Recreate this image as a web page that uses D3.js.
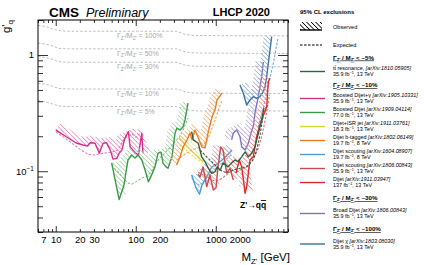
<!DOCTYPE html>
<html><head><meta charset="utf-8">
<script src="https://cdn.jsdelivr.net/npm/d3@7"></script>
<style>
body{margin:0;background:#fff}
text{font-family:"Liberation Sans",Arial,Helvetica,sans-serif}
</style></head><body><div id="PlotArea"></div>
<script>
// Z' width reference curves (g'_q for fixed Gamma/M)
var widthMass = [6, 7.5, 9, 11, 14, 320, 360, 420, 550, 8000];
var width100 = [1.80, 1.76, 1.68, 1.62, 1.60, 1.60, 1.56, 1.50, 1.47, 1.46];
var width50 = [1.265, 1.24, 1.20, 1.14, 1.13, 1.13, 1.10, 1.06, 1.04, 1.03];
var width30 = [0.97, 0.95, 0.92, 0.875, 0.865, 0.865, 0.845, 0.815, 0.80, 0.79];
var width10 = [0.57, 0.56, 0.54, 0.515, 0.51, 0.51, 0.50, 0.48, 0.47, 0.466];
var width5 = [0.405, 0.395, 0.38, 0.364, 0.36, 0.36, 0.352, 0.34, 0.33, 0.33];
var widthNames = ["100%", "50%", "30%", "10%", "5%"];

// Boosted dijet + gamma
var dijetGammaMass = [10, 14, 18, 22, 25, 27, 31, 35, 39, 43, 48, 52, 58, 62, 67, 73, 81, 85, 98, 108, 119, 123];
var dijetGammaObs = [0.226, 0.195, 0.175, 0.168, 0.165, 0.176, 0.174, 0.143, 0.174, 0.176, 0.152, 0.127, 0.129, 0.143, 0.152, 0.192, 0.219, 0.162, 0.144, 0.138, 0.212, 0.143];
var dijetGammaExpMass = [10, 14, 20, 25, 30, 40, 50, 60, 70, 80, 90, 100, 110, 125];
var dijetGammaExp = [0.218, 0.186, 0.155, 0.140, 0.138, 0.143, 0.146, 0.152, 0.186, 0.201, 0.209, 0.196, 0.209, 0.205];

// Boosted dijet
var boostedMass = [50, 62, 71, 80, 89, 98, 107, 119, 131, 144, 158, 174, 190, 207, 219, 239, 253, 284, 310, 328, 358, 390, 413, 450];
var boostedObs = [0.118, 0.057, 0.075, 0.125, 0.138, 0.130, 0.138, 0.125, 0.102, 0.081, 0.093, 0.109, 0.143, 0.146, 0.118, 0.109, 0.106, 0.133, 0.213, 0.235, 0.226, 0.240, 0.276, 0.386];
var boostedExpMass = [50, 60, 70, 80, 90, 100, 120, 140, 160, 180, 200, 250, 300, 350, 400, 450];
var boostedExp = [0.113, 0.0985, 0.0873, 0.079, 0.0775, 0.081, 0.0873, 0.0908, 0.1024, 0.118, 0.13, 0.152, 0.175, 0.196, 0.235, 0.287];

// Dijet + ISR jet
var isrMass = [350, 400, 450, 500, 550, 600, 650, 700];
var isrObs = [0.193, 0.175, 0.161, 0.149, 0.140, 0.133, 0.125, 0.121];
var isrExp = [0.168, 0.159, 0.146, 0.138, 0.130, 0.125, 0.121, 0.118];

// Dijet b-tagged (8 TeV)
var btagMass = [325, 358, 390, 437, 477, 505, 550, 600, 673, 734, 800, 898, 979, 1037, 1200];
var btagObs = [0.113, 0.133, 0.161, 0.186, 0.213, 0.186, 0.226, 0.196, 0.161, 0.159, 0.213, 0.293, 0.336, 0.41, 0.47];
var btagExpMass = [325, 400, 500, 600, 700, 800, 900, 1000, 1200];
var btagExp = [0.125, 0.138, 0.152, 0.159, 0.168, 0.193, 0.235, 0.287, 0.41];

// Dijet scouting (8 TeV)
var scout8Mass = [500, 567, 626, 673, 760, 890, 1000, 1200, 1400, 1600];
var scout8Obs = [0.0927, 0.0717, 0.0634, 0.076, 0.0873, 0.109, 0.113, 0.125, 0.138, 0.152];
var scout8Exp = [0.0873, 0.079, 0.076, 0.079, 0.0873, 0.0985, 0.106, 0.118, 0.130, 0.140];

// Dijet scouting (13 TeV)
var scoutMass = [600, 636, 693, 771, 847, 932, 1007, 1067, 1153, 1234, 1370, 1507, 1657];
var scoutObs = [0.095, 0.089, 0.109, 0.0736, 0.0927, 0.0689, 0.0717, 0.109, 0.162, 0.152, 0.0965, 0.106, 0.084];
var scoutExpMass = [600, 700, 800, 900, 1000, 1100, 1200, 1400, 1650];
var scoutExp = [0.098, 0.093, 0.0873, 0.084, 0.0825, 0.084, 0.0873, 0.094, 0.1024];

// Dijet 137 fb-1
var dijetMass = [1791, 1969, 2110, 2330, 2436, 2680, 2946, 3248, 3500, 3752, 4335, 4541, 4766];
var dijetObs = [0.0965, 0.125, 0.109, 0.0645, 0.0736, 0.125, 0.133, 0.198, 0.241, 0.276, 0.359, 0.589, 0.63];
var dijetExpMass = [1800, 2000, 2300, 2600, 3000, 3400, 3800, 4200, 4700];
var dijetExp = [0.098, 0.1024, 0.106, 0.113, 0.13, 0.158, 0.205, 0.287, 0.453];

// Broad dijet
var broadMass = [1580, 1657, 1829, 2010, 2110, 2330, 2553, 2814, 2946, 3095, 3405, 3752, 3932];
var broadObs = [0.186, 0.212, 0.226, 0.198, 0.162, 0.152, 0.174, 0.226, 0.241, 0.317, 0.438, 0.651, 0.87];

// Dijet chi
var chiMass = [2010, 2209, 2436, 2680, 2946, 3248, 3573, 3932, 4129, 4335, 4541, 4766, 5003];
var chiObs = [0.552, 0.468, 0.371, 0.41, 0.438, 0.424, 0.438, 0.483, 0.534, 0.651, 0.848, 1.104, 1.437];
var chiExpMass = [3374, 3932, 4541, 5290, 6000];
var chiExp = [0.24, 0.35, 0.55, 0.87, 1.40];

// ttbar resonance
var ttMass = [500, 524, 605, 667, 734, 808, 890, 979, 1045, 1140, 1234, 1423, 1580, 1742, 1897, 2110, 2330, 2553, 2814, 3095, 3405, 3752, 4009];
var ttObs = [0.219, 0.186, 0.174, 0.133, 0.121, 0.106, 0.096, 0.099, 0.109, 0.102, 0.118, 0.109, 0.118, 0.125, 0.121, 0.133, 0.147, 0.133, 0.143, 0.162, 0.212, 0.276, 0.35];
var ttExpMass = [636, 771, 1140, 1370, 1640, 2010, 2436, 2930, 3248, 3573, 3900];
var ttExp = [0.152, 0.133, 0.102, 0.0965, 0.102, 0.106, 0.109, 0.125, 0.152, 0.205, 0.30];

// legend text
var legendNames = ["t\u0074\u0304 resonance, ", "Boosted Dijet+\u03b3 ", "Boosted Dijet ", "Dijet+ISR jet ", "Dijet b-tagged ", "Dijet scouting ", "Dijet scouting ", "Dijet ", "Broad Dijet ", "Dijet \u03c7 "];
var legendRefs = ["[arXiv:1810.05905]", "[arXiv:1905.10331]", "[arXiv:1909.04114]", "[arXiv:1911.03761]", "[arXiv:1802.06149]", "[arXiv:1604.08907]", "[arXiv:1806.00843]", "[arXiv:1911.03947]", "[arXiv:1806.00843]", "[arXiv:1803.08030]"];
var legendLumi = ["35.9", "35.9", "77.0", "18.3", "19.7", "19.7", "35.9", "137", "35.9", "35.9"];
var legendEnergy = ["13", "13", "13", "13", "8", "8", "13", "13", "13", "13"];
var widthHeaders = ["5%", "10%", "30%", "100%"];
var xTickLabels = [7, 10, 20, 30, 100, 200, 1000, 2000];

var svg = d3.select("#PlotArea").append("svg").attr("width", 424).attr("height", 265);
var xscale = d3.scaleLog().domain([6, 8000]).range([38, 288]);
var yscale = d3.scaleLog().domain([0.03, 2]).range([232, 20]);
var defs = svg.append("defs");
defs.append("clipPath").attr("id", "frame").append("rect")
	.attr("x", 38).attr("y", 20).attr("width", 250).attr("height", 212);

function hatch(id, color) {
	var p = defs.append("pattern").attr("id", id).attr("patternUnits", "userSpaceOnUse")
		.attr("width", 3.2).attr("height", 3.2).attr("patternTransform", "rotate(45)");
	p.append("rect").attr("x", 0).attr("y", 0).attr("width", 3.2).attr("height", 0.8).attr("fill", color);
}

function toPts(mass, g) {
	return mass.map(function(m, i) { return [xscale(m), yscale(g[i])]; });
}

// band offset to the excluded (upper) side of the curve
function band(pts, d) {
	var n = pts.length, off = [];
	for (var i = 0; i < n; i++) {
		var a = pts[Math.max(i - 1, 0)], b = pts[Math.min(i + 1, n - 1)];
		var dx = b[0] - a[0], dy = b[1] - a[1], L = Math.sqrt(dx * dx + dy * dy) || 1;
		off.push([pts[i][0] + d * dy / L, pts[i][1] - d * dx / L]);
	}
	return "M" + pts.concat(off.reverse()).join("L") + "Z";
}

var plot = svg.append("g").attr("clip-path", "url(#frame)");
var line = d3.line();

// width reference lines
var widthSets = [width100, width50, width30, width10, width5];
widthSets.forEach(function(w, i) {
	plot.append("path").attr("d", line(toPts(widthMass, w))).attr("fill", "none")
		.attr("stroke", "#b0b0b0").attr("stroke-width", 0.8).attr("stroke-dasharray", "2.5,1.8");
	var t = plot.append("text").attr("x", 117).attr("y", yscale(w[4]) + 7)
		.attr("font-size", 7).attr("fill", "#a8a8a8");
	t.append("tspan").text("\u0393");
	t.append("tspan").attr("font-size", 5).attr("dy", 1.5).text("Z'");
	t.append("tspan").attr("dy", -1.5).text("/M");
	t.append("tspan").attr("font-size", 5).attr("dy", 1.5).text("Z'");
	t.append("tspan").attr("dy", -1.5).text(" = " + widthNames[i]);
});

var analyses = [
	{mass: dijetGammaMass, obs: dijetGammaObs, emass: dijetGammaExpMass, exp: dijetGammaExp, col: "#d4308f", hat: "#ec8cc3", ecol: "#f07ab8"},
	{mass: boostedMass, obs: boostedObs, emass: boostedExpMass, exp: boostedExp, col: "#3c9a4a", hat: "#a3d6a6", ecol: "#86c98c"},
	{mass: isrMass, obs: isrObs, emass: isrMass, exp: isrExp, col: "#d6d63a", hat: "#eaea9a", ecol: "#e4e46a"},
	{mass: btagMass, obs: btagObs, emass: btagExpMass, exp: btagExp, col: "#f27c1c", hat: "#f7b27a", ecol: "#f6a55e"},
	{mass: scout8Mass, obs: scout8Obs, emass: scout8Mass, exp: scout8Exp, col: "#4c9cd8", hat: "#8fc2ea", ecol: "#80b8e4"},
	{mass: broadMass, obs: broadObs, col: "#8372c2", hat: "#bcb0e0"},
	{mass: chiMass, obs: chiObs, emass: chiExpMass, exp: chiExp, col: "#3d75a6", hat: "#93b8d8", ecol: "#6aaee0"},
	{mass: scoutMass, obs: scoutObs, emass: scoutExpMass, exp: scoutExp, col: "#cb4a4c", hat: "#e9a0a0", ecol: "#d97a7a"},
	{mass: dijetMass, obs: dijetObs, emass: dijetExpMass, exp: dijetExp, col: "#dc2a2a", hat: "#f09090", ecol: "#e36a6a"},
	{mass: ttMass, obs: ttObs, emass: ttExpMass, exp: ttExp, col: "#35613f", hat: null, ecol: "#35613f"}
];

analyses.forEach(function(a, i) {
	var pts = toPts(a.mass, a.obs);
	if (a.hat) {
		hatch("h" + i, a.hat);
		plot.append("path").attr("d", band(pts, 8)).attr("fill", "url(#h" + i + ")").attr("stroke", "none");
	}
	if (a.exp) {
		plot.append("path").attr("d", line(toPts(a.emass, a.exp))).attr("fill", "none")
			.attr("stroke", a.ecol).attr("stroke-width", 1.1).attr("stroke-dasharray", "2.5,1.5");
	}
	plot.append("path").attr("d", line(pts)).attr("fill", "none")
		.attr("stroke", a.col).attr("stroke-width", 1.4).attr("stroke-linejoin", "round");
});

// axes, ticks pointing inwards
var xTicks = xscale.ticks();
var xMajor = xTicks.filter(function(d) { return Math.abs(Math.log10(d) % 1) < 1e-6; });
var xMinor = xTicks.filter(function(d) { return xMajor.indexOf(d) < 0; });
function xfmt(d) { return xTickLabels.indexOf(d) >= 0 ? d : ""; }

svg.append("g").attr("transform", "translate(0,232)")
	.call(d3.axisBottom(xscale).tickValues(xMinor).tickSize(-3).tickPadding(4).tickFormat(xfmt));
svg.append("g").attr("transform", "translate(0,232)")
	.call(d3.axisBottom(xscale).tickValues(xMajor).tickSize(-6).tickPadding(4).tickFormat(xfmt));
svg.append("g").attr("transform", "translate(0,20)")
	.call(d3.axisTop(xscale).tickValues(xMinor).tickSize(-3).tickFormat(""));
svg.append("g").attr("transform", "translate(0,20)")
	.call(d3.axisTop(xscale).tickValues(xMajor).tickSize(-6).tickFormat(""));

var yTicks = yscale.ticks();
var yMajor = [0.1, 1];
var yMinor = yTicks.filter(function(d) { return Math.abs(d - 0.1) > 1e-9 && Math.abs(d - 1) > 1e-9; });
svg.append("g").attr("transform", "translate(38,0)")
	.call(d3.axisLeft(yscale).tickValues(yMinor).tickSize(-5).tickFormat(""));
svg.append("g").attr("transform", "translate(38,0)")
	.call(d3.axisLeft(yscale).tickValues(yMajor).tickSize(-10).tickFormat(""));
svg.append("g").attr("transform", "translate(288,0)")
	.call(d3.axisRight(yscale).tickValues(yMinor).tickSize(-5).tickFormat(""));
svg.append("g").attr("transform", "translate(288,0)")
	.call(d3.axisRight(yscale).tickValues(yMajor).tickSize(-10).tickFormat(""));

svg.selectAll(".domain").remove();
svg.selectAll(".tick line").attr("stroke", "#000").attr("stroke-width", 0.8);
svg.selectAll(".tick text").attr("font-size", 9.5).attr("font-family", "Liberation Sans, Arial, sans-serif");
svg.append("rect").attr("x", 38).attr("y", 20).attr("width", 250).attr("height", 212)
	.attr("fill", "none").attr("stroke", "#000").attr("stroke-width", 1);

svg.append("text").attr("x", 34).attr("y", yscale(1) + 3.5).attr("text-anchor", "end").attr("font-size", 9.5).text("1");
var ylab = svg.append("text").attr("x", 34).attr("y", yscale(0.1) + 3.5).attr("text-anchor", "end").attr("font-size", 9.5);
ylab.append("tspan").text("10");
ylab.append("tspan").attr("font-size", 6.5).attr("dy", -3.5).text("\u22121");

// titles
svg.append("text").attr("x", 49).attr("y", 17).attr("font-size", 13.5).attr("font-weight", "bold").text("CMS");
svg.append("text").attr("x", 86).attr("y", 17).attr("font-size", 12.5).attr("font-style", "italic").text("Preliminary");
svg.append("text").attr("x", 270).attr("y", 16).attr("text-anchor", "end").attr("font-size", 11).attr("font-weight", "bold").text("LHCP 2020");

var xt = svg.append("text").attr("x", 290).attr("y", 261).attr("text-anchor", "end").attr("font-size", 11.5);
xt.append("tspan").text("M");
xt.append("tspan").attr("font-size", 8).attr("dy", 2.5).text("Z'");
xt.append("tspan").attr("dy", -2.5).text(" [GeV]");

var yt = svg.append("text").attr("transform", "translate(10,20) rotate(-90)").attr("text-anchor", "end").attr("font-size", 11.5);
yt.append("tspan").text("g'");
yt.append("tspan").attr("font-size", 8).attr("dy", 2.5).text("q");

var zq = svg.append("text").attr("x", 240).attr("y", 208).attr("font-size", 8.5).attr("font-weight", "bold");
zq.append("tspan").text("Z'\u2192q");
zq.append("tspan").attr("text-decoration", "overline").text("q");

// legend
var lg = svg.append("g");
var lx = 300, tx = 333;
lg.append("text").attr("x", lx).attr("y", 14).attr("font-size", 6).attr("font-weight", "bold").text("95% CL exclusions");
hatch("hleg", "#000");
lg.append("rect").attr("x", lx).attr("y", 22).attr("width", 22).attr("height", 8).attr("fill", "url(#hleg)");
lg.append("line").attr("x1", lx).attr("x2", lx + 22).attr("y1", 30).attr("y2", 30).attr("stroke", "#000").attr("stroke-width", 1.4);
lg.append("text").attr("x", tx).attr("y", 29).attr("font-size", 5.6).text("Observed");
lg.append("line").attr("x1", lx).attr("x2", lx + 22).attr("y1", 45).attr("y2", 45).attr("stroke", "#000").attr("stroke-width", 1.1).attr("stroke-dasharray", "2.5,1.5");
lg.append("text").attr("x", tx).attr("y", 47).attr("font-size", 5.6).text("Expected");

function header(y, pct) {
	var t = lg.append("text").attr("x", tx).attr("y", y).attr("font-size", 6.2).attr("font-weight", "bold").attr("text-decoration", "underline");
	t.append("tspan").text("\u0393");
	t.append("tspan").attr("font-size", 4.3).attr("dy", 1.3).text("Z'");
	t.append("tspan").attr("dy", -1.3).text(" / M");
	t.append("tspan").attr("font-size", 4.3).attr("dy", 1.3).text("Z'");
	t.append("tspan").attr("dy", -1.3).text(" < ~" + pct);
}
header(59.5, widthHeaders[0]);
header(87, widthHeaders[1]);
header(200, widthHeaders[2]);
header(231, widthHeaders[3]);

var legendY = [71.5, 98.5, 112.5, 126.5, 140.5, 154.5, 168.5, 182.5, 213.5, 244];
var legendCol = ["#35613f", "#d4308f", "#3c9a4a", "#d6d63a", "#f27c1c", "#4c9cd8", "#cb4a4c", "#dc2a2a", "#8372c2", "#3d75a6"];
legendNames.forEach(function(n, i) {
	var y = legendY[i];
	lg.append("line").attr("x1", lx).attr("x2", lx + 25).attr("y1", y).attr("y2", y)
		.attr("stroke", legendCol[i]).attr("stroke-width", 1.4);
	var t = lg.append("text").attr("x", tx).attr("y", y - 1.5).attr("font-size", 5.4);
	t.append("tspan").text(n);
	t.append("tspan").attr("font-style", "italic").text(legendRefs[i]);
	var t2 = lg.append("text").attr("x", tx).attr("y", y + 4.8).attr("font-size", 5.4);
	t2.append("tspan").text(legendLumi[i] + " fb");
	t2.append("tspan").attr("font-size", 3.8).attr("dy", -2).text("\u22121");
	t2.append("tspan").attr("dy", 2).text(", " + legendEnergy[i] + " TeV");
});
</script></body></html>
